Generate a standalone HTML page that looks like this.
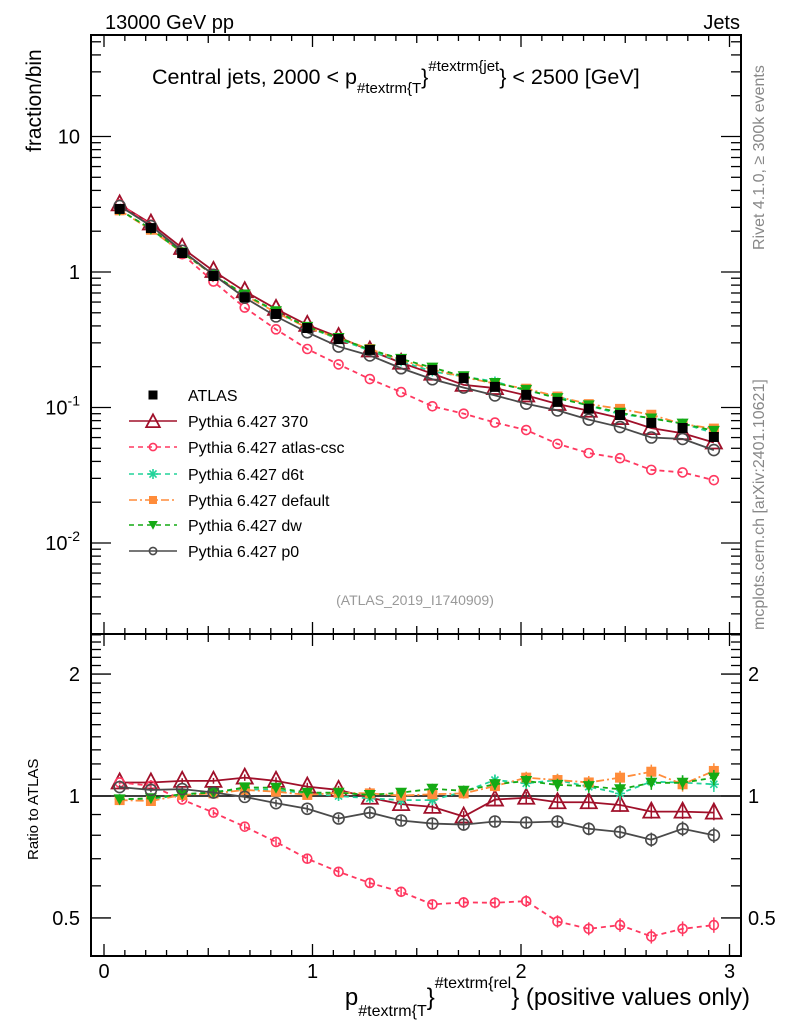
<!DOCTYPE html>
<html><head><meta charset="utf-8"><style>
body{margin:0;background:#fff}
svg{display:block;font-family:"Liberation Sans",sans-serif}
</style></head><body>
<svg id="c" width="786" height="1024" xmlns="http://www.w3.org/2000/svg">
<text x="105" y="29" font-size="20">13000 GeV pp</text>
<text x="740" y="29" font-size="20" text-anchor="end">Jets</text>
<text x="152" y="84" font-size="21.5">Central jets, 2000 &lt; p<tspan font-size="15" dy="9">#textrm{T</tspan><tspan dy="-9">}</tspan><tspan font-size="15" dy="-13">#textrm{jet</tspan><tspan dy="13">} &lt; 2500 [GeV]</tspan></text>
<text transform="translate(764,250) rotate(-90)" font-size="16" fill="#888">Rivet 4.1.0, ≥ 300k events</text>
<text transform="translate(764,630) rotate(-90)" font-size="16" fill="#888">mcplots.cern.ch [arXiv:2401.10621]</text>
<text x="415" y="605" font-size="14" fill="#999" text-anchor="middle">(ATLAS_2019_I1740909)</text>
<text transform="translate(41,152) rotate(-90)" font-size="21">fraction/bin</text>
<text transform="translate(38,860) rotate(-90)" font-size="15">Ratio to ATLAS</text>
<text x="750" y="1005" font-size="24" text-anchor="end">p<tspan font-size="16" dy="11">#textrm{T</tspan><tspan dy="-11">}</tspan><tspan font-size="16" dy="-17">#textrm{rel</tspan><tspan dy="17">} (positive values only)</tspan></text>
<g id="g"></g>
</svg>
<script>
const xCenters=[0.075,0.225,0.375,0.525,0.675,0.825,0.975,1.125,1.275,1.425,1.575,1.725,1.875,2.025,2.175,2.325,2.475,2.625,2.775,2.925];
const atlas=[2.92,2.11,1.38,0.934,0.65,0.49,0.386,0.32,0.266,0.224,0.189,0.165,0.142,0.124,0.11,0.098,0.088,0.077,0.0706,0.0606];
const r370=[1.08,1.08,1.09,1.09,1.11,1.09,1.055,1.035,0.99,0.955,0.94,0.89,0.98,0.99,0.965,0.965,0.95,0.915,0.915,0.91];
const rCsc=[1.08,1.06,0.98,0.91,0.84,0.77,0.70,0.65,0.61,0.58,0.54,0.546,0.545,0.55,0.49,0.47,0.48,0.45,0.47,0.48];
const rD6t=[0.983,0.983,1.006,1.025,1.039,1.035,1.015,1.0,0.987,0.977,0.977,1.025,1.095,1.075,1.095,1.054,1.015,1.085,1.079,1.069];
const rDef=[0.977,0.972,1.006,1.015,1.035,1.025,1.006,1.019,1.015,1.002,1.01,1.015,1.058,1.11,1.095,1.08,1.11,1.148,1.069,1.153];
const rDw=[0.981,0.987,1.011,1.019,1.05,1.048,1.019,1.019,1.006,1.019,1.042,1.03,1.069,1.089,1.065,1.058,1.039,1.078,1.078,1.11];
const rP0=[1.052,1.035,1.04,1.02,0.995,0.96,0.93,0.88,0.91,0.87,0.855,0.85,0.865,0.86,0.865,0.83,0.815,0.78,0.83,0.80];
const xTicks=["0","1","2","3"];
const mainTicks=["10<sup>-2</sup>","10<sup>-1</sup>","1","10"];
const ratioTicks=["0.5","1","2"];
const legendLabels=["ATLAS","Pythia 6.427 370","Pythia 6.427 atlas-csc","Pythia 6.427 d6t","Pythia 6.427 default","Pythia 6.427 dw","Pythia 6.427 p0"];

const NS="http://www.w3.org/2000/svg",g=document.getElementById('g');
function el(t,a,p){const e=document.createElementNS(NS,t);for(const k in a)e.setAttribute(k,a[k]);(p||g).appendChild(e);return e;}
const L=91,R=741,T=35,MB=634,RB=956;
const X=v=>104+v*208.5;
const Ym=v=>272-Math.log10(v)*135.5;
const Yr=v=>796-Math.log10(v)*405;

let f=el('rect',{x:L,y:T,width:R-L,height:MB-T,fill:'none',stroke:'#000','stroke-width':2});

f=el('rect',{x:L,y:MB,width:R-L,height:RB-MB,fill:'none',stroke:'#000','stroke-width':2});


for(let i=0;i<=30;i++){const v=i/10,x=X(v);const len=i%10==0?12:(i%5==0?8:6);
 for(const [yb,yt] of [[MB,T],[RB,MB]]){
  el('line',{x1:x,x2:x,y1:yb,y2:yb-len,stroke:'#000','stroke-width':1.3});
  el('line',{x1:x,x2:x,y1:yt,y2:yt+len,stroke:'#000','stroke-width':1.3});}}
xTicks.forEach((t,i)=>{const e=el('text',{x:X(+t),y:978,'font-size':20,'text-anchor':'middle'});e.textContent=t;
 });

for(let d=-3;d<=1;d++)for(let m=1;m<=9;m++){const v=m*Math.pow(10,d),y=Ym(v);if(y<T||y>MB)continue;const len=m==1?20:10;
 el('line',{x1:L,x2:L+len,y1:y,y2:y,stroke:'#000','stroke-width':1.3});el('line',{x1:R,x2:R-len,y1:y,y2:y,stroke:'#000','stroke-width':1.3});}
const mainVals=[0.01,0.1,1,10];
mainTicks.forEach((t,i)=>{const y=Ym(mainVals[i]);const e=el('text',{x:80,y:y+7,'font-size':20,'text-anchor':'end'});
 
 if(t.includes('sup')){e.textContent='10';const s=el('tspan',{'font-size':14,dy:-9},e);s.textContent=t.match(/<sup>(.*)<\/sup>/)[1];}else e.textContent=t;});

[0.4,0.5,0.6,0.7,0.8,0.9,1,1.1,1.2,1.3,1.4,1.5,1.6,1.7,1.8,1.9,2,2.1,2.2,2.3,2.4,2.5].forEach(v=>{const y=Yr(v);if(y<MB||y>RB)return;
 const len=(v==0.5||v==1||v==2)?20:10;
 el('line',{x1:L,x2:L+len,y1:y,y2:y,stroke:'#000','stroke-width':1.3});el('line',{x1:R,x2:R-len,y1:y,y2:y,stroke:'#000','stroke-width':1.3});});
ratioTicks.forEach(t=>{const y=Yr(+t);
 let e=el('text',{x:80,y:y+7,'font-size':20,'text-anchor':'end'});e.textContent=t;
 e=el('text',{x:748,y:y+7,'font-size':20});e.textContent=t;});
el('line',{x1:L,x2:R,y1:Yr(1),y2:Yr(1),stroke:'#000','stroke-width':1.5});

function marker(type,color,x,y,parent,s){s=s||1;let e;
 if(type=='sq')e=el('rect',{x:x-5*s,y:y-5*s,width:10*s,height:10*s,fill:color},parent);
 else if(type=='tri')e=el('polygon',{points:`${x},${y-9*s} ${x-8*s},${y+6*s} ${x+8*s},${y+6*s}`,fill:'none',stroke:color,'stroke-width':1.8},parent);
 else if(type=='circ')e=el('circle',{cx:x,cy:y,r:4.5*s,fill:'none',stroke:color,'stroke-width':1.6},parent);
 else if(type=='bigcirc')e=el('circle',{cx:x,cy:y,r:5.5*s,fill:'none',stroke:color,'stroke-width':1.6},parent);
 else if(type=='star'){e=el('g',{stroke:color,'stroke-width':1.6},parent);for(let a=0;a<4;a++){const an=a*Math.PI/4;el('line',{x1:x-5*Math.cos(an),y1:y-5*Math.sin(an),x2:x+5*Math.cos(an),y2:y+5*Math.sin(an)},e);}}
 else if(type=='sqo')e=el('rect',{x:x-5*s,y:y-5*s,width:10*s,height:10*s,fill:color},parent);
 else if(type=='dtri')e=el('polygon',{points:`${x-6*s},${y-5*s} ${x+6*s},${y-5*s} ${x},${y+6*s}`,fill:color},parent);
 return e;}

const series=[
 {name:'370',r:r370,c:'#a0102a',m:'tri',d:''},
 {name:'atlas-csc',r:rCsc,c:'#ff3860',m:'circ',d:'5,4'},
 {name:'d6t',r:rD6t,c:'#22d39a',m:'star',d:'5,4'},
 {name:'default',r:rDef,c:'#ff8c3a',m:'sqo',d:'8,3,2,3'},
 {name:'dw',r:rDw,c:'#14aa14',m:'dtri',d:'5,4'},
 {name:'p0',r:rP0,c:'#4a4a4a',m:'bigcirc',d:''}];

series.forEach(s=>{
 const gm=el('g',{});
 const mainPts=xCenters.map((x,i)=>[X(x),Ym(atlas[i]*s.r[i])]);
 const ratPts=xCenters.map((x,i)=>[X(x),Yr(s.r[i])]);
 for(const pts of [mainPts,ratPts]){
  el('polyline',{points:pts.map(p=>p.join(',')).join(' '),fill:'none',stroke:s.c,'stroke-width':1.8,'stroke-dasharray':s.d},gm);
  pts.forEach(p=>marker(s.m,s.c,p[0],p[1],gm));}
 ratPts.forEach((p,i)=>{const eb=2+i*0.3;el('line',{x1:p[0],x2:p[0],y1:p[1]-eb,y2:p[1]+eb,stroke:s.c,'stroke-width':1.5},gm);});
});
const ga=el('g',{});
xCenters.forEach((x,i)=>marker('sq','#000',X(x),Ym(atlas[i]),ga));

const legY=[395,421,447,474,500,525,551];
const legTypes=[['sq','#000',''],...series.map(s=>[s.m,s.c,s.d])];
legendLabels.forEach((t,i)=>{const lg=el('g',{});
 const y=legY[i];const [m,c,d]=legTypes[i];
 if(i>0)el('line',{x1:129,x2:177,y1:y,y2:y,stroke:c,'stroke-width':1.6,'stroke-dasharray':d},lg);
 if(m=='tri')marker(m,c,153,y+1,lg,0.85);else if(m=='bigcirc')marker('circ',c,153,y,lg,0.8);else marker(m,c,153,y,lg,m=='sq'?0.9:0.8);
 const e=el('text',{x:188,y:y+6,'font-size':16},lg);e.textContent=t;});
</script>
</body></html>
